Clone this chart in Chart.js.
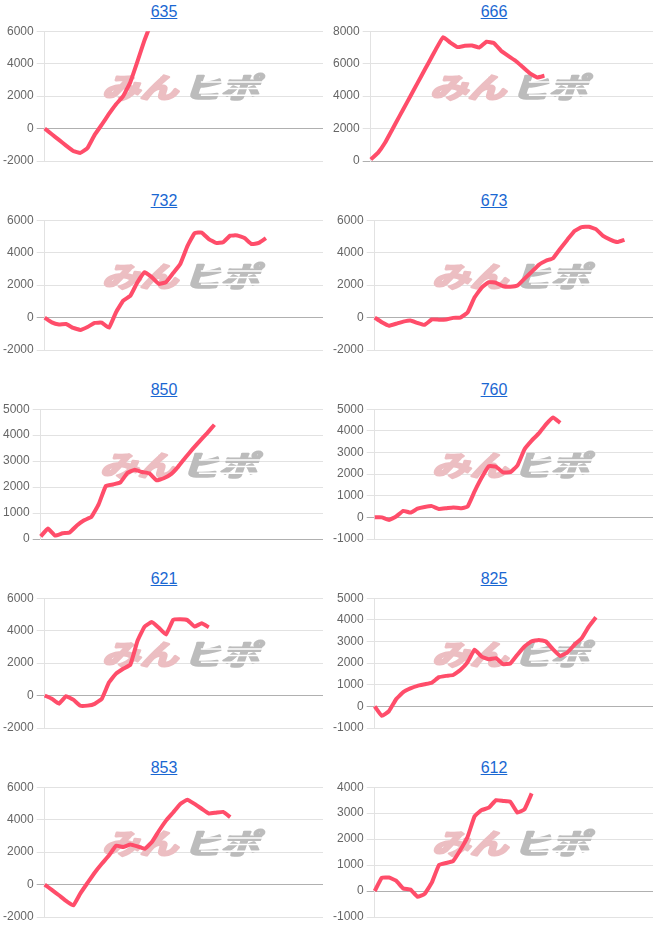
<!DOCTYPE html>
<html>
<head>
<meta charset="utf-8">
<script src="https://cdn.jsdelivr.net/npm/chart.js@4.4.1/dist/chart.umd.min.js"></script>
<style>
  body { margin: 0; background: #fff; font-family: Arial, "Liberation Sans", sans-serif; }
  #wrap { position: relative; width: 660px; height: 945px; }
  .panel { position: absolute; width: 328px; height: 189px; }
  .panel a { position: absolute; left: 0; right: 0; top: 2px; text-align: center;
             font-size: 16px; line-height: 20px; color: #1a67d2; text-decoration: underline; }
  .panel canvas { position: absolute; left: 0; top: 21px; }
</style>
</head>
<body>
<div id="wrap"></div>
<script>
// machine numbers (panel titles), left-to-right, top-to-bottom
const titles = ['635', '666', '732', '673', '850', '760', '621', '825', '853', '612'];

// y-axis range per panel
const yMins  = [-2000, 0, -2000, -2000, 0, -1000, -2000, -1000, -2000, -1000];
const yMaxs  = [6000, 8000, 6000, 6000, 5000, 5000, 6000, 5000, 6000, 4000];
const ySteps = [2000, 2000, 2000, 2000, 1000, 1000, 2000, 1000, 2000, 1000];

// shared x slots (hidden axis)
const xLabels = Array.from({ length: 40 }, (_, i) => String(i + 1));

// difference series
const s635 = [0, -350, -700, -1050, -1380, -1500, -1200, -390, 240, 900, 1500, 2000, 2860, 4140, 5460, 6600];
const s666 = [100, 500, 1140, 1960, 2780, 3600, 4420, 5240, 6060, 6880, 7630, 7300, 7020, 7100, 7120, 6990,
              7350, 7270, 6800, 6480, 6180, 5790, 5400, 5150, 5260];
const s732 = [0, -300, -430, -400, -640, -760, -580, -330, -316, -630, 330, 1040, 1340, 2180, 2800, 2490,
              2070, 2180, 2740, 3300, 4400, 5200, 5240, 4840, 4600, 4640, 5050, 5060, 4900, 4530, 4600, 4900];
const s673 = [0, -290, -500, -380, -250, -180, -330, -450, -120, -130, -120, -20, 0, 300, 1250, 1850,
              2180, 2140, 1930, 1900, 1970, 2400, 2820, 3250, 3500, 3660, 4240, 4800, 5340, 5570, 5600,
              5450, 5030, 4800, 4650, 4790];
const s850 = [100, 400, 130, 220, 250, 520, 720, 850, 1330, 2040, 2100, 2180, 2550, 2670, 2580, 2530,
              2260, 2340, 2500, 2790, 3140, 3470, 3780, 4080, 4400];
const s760 = [0, 0, -120, 40, 300, 220, 400, 480, 520, 390, 420, 460, 420, 490, 1200, 1840, 2370, 2340,
              2080, 2090, 2400, 3150, 3550, 3880, 4300, 4620, 4370];
const s621 = [0, -200, -500, -40, -250, -630, -620, -510, -200, 800, 1350, 1650, 1900, 3360, 4250, 4530,
              4180, 3760, 4660, 4700, 4650, 4250, 4450, 4210];
const s825 = [0, -440, -220, 330, 660, 830, 950, 1020, 1090, 1350, 1410, 1450, 1680, 2030, 2620, 2300,
              2180, 2230, 1950, 1980, 2390, 2770, 3010, 3070, 3000, 2630, 2330, 2490, 2850, 3150, 3690, 4120];
const s853 = [0, -330, -660, -1010, -1290, -540, 100, 730, 1280, 1790, 2390, 2320, 2470, 2350, 2200, 2600,
              3300, 3940, 4440, 4970, 5230, 4970, 4670, 4380, 4430, 4480, 4150];
const s612 = [0, 510, 520, 400, 100, 60, -220, -110, 320, 1000, 1080, 1160, 1580, 2070, 2880, 3120, 3210,
              3500, 3470, 3440, 3020, 3150, 3760];

const series = [s635, s666, s732, s673, s850, s760, s621, s825, s853, s612];

// site logo drawn behind the line
const watermark = {
    id: 'watermark',
    beforeDatasetsDraw(chart) {
        const { ctx, chartArea } = chart;
        const cx = (chartArea.left + chartArea.right) / 2 - 3;
        const cy = (chartArea.top + chartArea.bottom) / 2 - 9;
        ctx.save();
        ctx.translate(cx, cy);
        ctx.scale(1, 0.74);
        ctx.font = 'italic bold 38px "Noto Sans CJK JP"';
        ctx.textBaseline = 'middle';
        ctx.lineJoin = 'round';
        ctx.lineWidth = 3;

        ctx.textAlign = 'right';
        ctx.fillStyle = ctx.strokeStyle = '#ecbec2';
        ctx.strokeText('みん', -3, 0);
        ctx.fillText('みん', -3, 0);

        ctx.textAlign = 'left';
        ctx.fillStyle = ctx.strokeStyle = '#bcbcbc';
        ctx.strokeText('ヒポ', 2, 0);
        ctx.fillText('ヒポ', 2, 0);

        // speed lines through the grey part
        ctx.strokeStyle = '#fff';
        ctx.lineWidth = 2;
        [-7, 2, 11].forEach(dy => {
            ctx.beginPath();
            ctx.moveTo(20, dy);
            ctx.lineTo(84, dy);
            ctx.stroke();
        });
        ctx.restore();
    }
};

const wrap = document.getElementById('wrap');

titles.forEach((title, i) => {
    const panel = document.createElement('div');
    panel.className = 'panel';
    panel.style.left = (i % 2 === 0 ? 0 : 330) + 'px';
    panel.style.top = (Math.floor(i / 2) * 189) + 'px';

    const link = document.createElement('a');
    link.href = '#';
    link.textContent = title;
    panel.appendChild(link);

    const canvas = document.createElement('canvas');
    canvas.width = 328;
    canvas.height = 166;
    canvas.style.width = '328px';
    canvas.style.height = '166px';
    panel.appendChild(canvas);
    wrap.appendChild(panel);

    new Chart(canvas, {
        type: 'line',
        data: {
            labels: xLabels,
            datasets: [{
                data: series[i],
                borderColor: '#ff4d6a',
                borderWidth: 4,
                pointRadius: 0,
                tension: 0.1,
                fill: false
            }]
        },
        options: {
            responsive: false,
            animation: false,
            layout: { padding: { top: 0, right: 5, bottom: 26, left: 0 } },
            plugins: { legend: { display: false }, tooltip: { enabled: false } },
            scales: {
                x: { display: false },
                y: {
                    min: yMins[i],
                    max: yMaxs[i],
                    ticks: {
                        stepSize: ySteps[i],
                        color: '#666',
                        font: { size: 12, family: 'Arial, "Liberation Sans", sans-serif' },
                        callback: value => String(value)
                    },
                    grid: {
                        color: ctx => (ctx.tick && ctx.tick.value === 0) ? '#b0b0b0' : '#e2e2e2',
                        tickLength: 8
                    },
                    border: { color: '#e2e2e2' }
                }
            }
        },
        plugins: [watermark]
    });
});
</script>
</body>
</html>
